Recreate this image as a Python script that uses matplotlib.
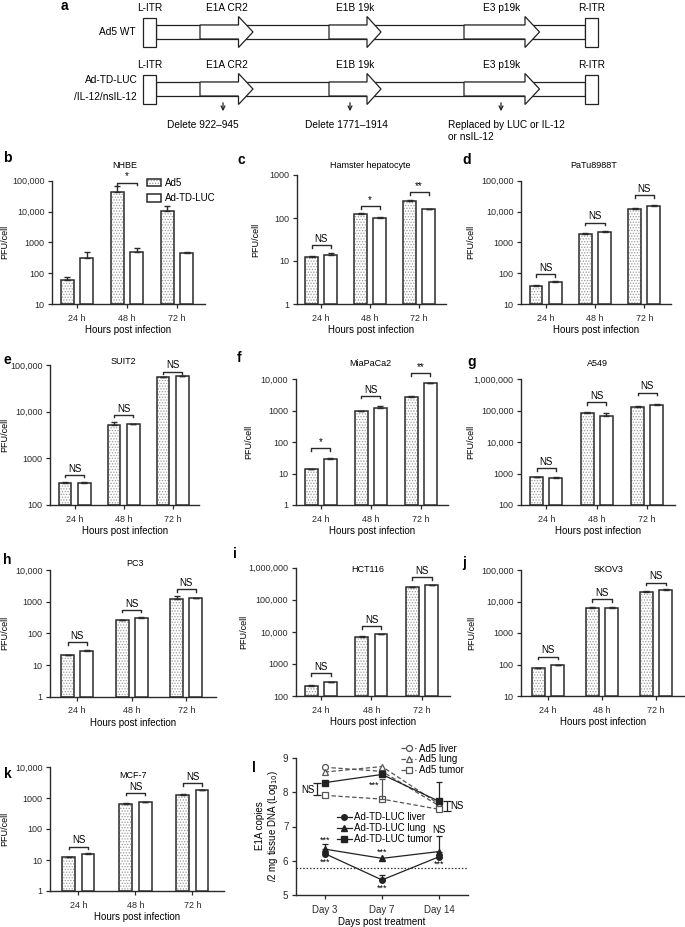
import numpy as np
import matplotlib
matplotlib.use('Agg')
import matplotlib.pyplot as plt
from matplotlib.patches import Rectangle, Polygon
from matplotlib.ticker import FixedLocator, FuncFormatter, NullLocator

plt.rcParams['font.family'] = ['Liberation Sans', 'DejaVu Sans']
plt.rcParams['font.size'] = 6.5
plt.rcParams['hatch.linewidth'] = 0.6
plt.rcParams['axes.linewidth'] = 1.0

# ======================= DATA =======================
timepoints = ['24 h', '48 h', '72 h']
series_names = ['Ad5', 'Ad-TD-LUC']

nhbe_ad5 = [58, 44000, 10400]
nhbe_ad5_top = [74, 67000, 15500]
nhbe_luc = [321, 480, 443]
nhbe_luc_top = [502, 645, 500]
nhbe_sig = ['', '*', '']
nhbe_sig_y = [0, 86000, 0]

hams_ad5 = [12.4, 126, 248]
hams_ad5_top = [13.4, 129, 256]
hams_luc = [14, 100, 158]
hams_luc_top = [15.2, 104, 163]
hams_sig = ['NS', '*', '**']
hams_sig_y = [23.5, 190, 395]

patu_ad5 = [38, 1860, 12300]
patu_ad5_top = [40, 1980, 12800]
patu_luc = [52, 2200, 15400]
patu_luc_top = [55, 2260, 15900]
patu_sig = ['NS', 'NS', 'NS']
patu_sig_y = [94, 4360, 34000]

suit_ad5 = [291, 5200, 54000]
suit_ad5_top = [315, 5900, 55500]
suit_luc = [301, 5400, 57000]
suit_luc_top = [318, 5550, 58500]
suit_sig = ['NS', 'NS', 'NS']
suit_sig_y = [440, 8500, 72000]

mia_ad5 = [13.4, 950, 2600]
mia_ad5_top = [14.2, 990, 2800]
mia_luc = [28.5, 1245, 7300]
mia_luc_top = [31.5, 1400, 7600]
mia_sig = ['*', 'NS', '**']
mia_sig_y = [63, 2950, 15000]

a549_ad5 = [747, 86000, 130000]
a549_ad5_top = [800, 90000, 134000]
a549_luc = [700, 69000, 147000]
a549_luc_top = [760, 82000, 165000]
a549_sig = ['NS', 'NS', 'NS']
a549_sig_y = [1460, 182000, 368000]

pc3_ad5 = [20, 260, 1250]
pc3_ad5_top = [20.5, 272, 1480]
pc3_luc = [28, 300, 1280]
pc3_luc_top = [29, 320, 1330]
pc3_sig = ['NS', 'NS', 'NS']
pc3_sig_y = [52, 550, 2450]

hct_ad5 = [205, 7100, 250000]
hct_ad5_top = [225, 7300, 258000]
hct_luc = [268, 8500, 285000]
hct_luc_top = [278, 8800, 296000]
hct_sig = ['NS', 'NS', 'NS']
hct_sig_y = [510, 14700, 500000]

skov_ad5 = [76, 6000, 20300]
skov_ad5_top = [79, 6600, 20800]
skov_luc = [96, 6300, 23000]
skov_luc_top = [100, 6450, 25000]
skov_sig = ['NS', 'NS', 'NS']
skov_sig_y = [178, 12000, 40000]

mcf_ad5 = [12.2, 630, 1270]
mcf_ad5_top = [12.6, 710, 1300]
mcf_luc = [15.5, 725, 1780]
mcf_luc_top = [16.5, 750, 1850]
mcf_sig = ['NS', 'NS', 'NS']
mcf_sig_y = [27, 1480, 3030]

# panel l (log10 E1A copies)
days = ['Day 3', 'Day 7', 'Day 14']
ad5_liver = [8.73, 8.61, 7.60]
ad5_lung = [8.59, 8.75, 7.65]
ad5_tumor = [7.91, 7.80, 7.50]
td_liver = [6.21, 5.44, 6.12]
td_lung = [6.34, 6.07, 6.27]
td_tumor = [8.28, 8.52, 7.73]
ad5_tumor_up = [np.nan, 8.38, np.nan]
td_tumor_up = [np.nan, np.nan, 8.30]
td_liver_up = [np.nan, 5.58, np.nan]
td_lung_up = [6.48, np.nan, 6.72]
detection_limit = 5.8
l_labels = ['Ad5 liver', 'Ad5 lung', 'Ad5 tumor',
            'Ad-TD-LUC liver', 'Ad-TD-LUC lung', 'Ad-TD-LUC tumor']

# panel a schematic
row_names = ['Ad5 WT', 'Ad-TD-LUC', '/IL-12/nsIL-12']
itr_names = ['L-ITR', 'R-ITR']
gene_names = ['E1A CR2', 'E1B 19k', 'E3 p19k']
mod_texts = ['Delete 922–945', 'Delete 1771–1914', 'Replaced by LUC or IL-12\nor nsIL-12']

# ======================= FIGURE =======================
W, H = 685, 927
fig = plt.figure(figsize=(W / 100, H / 100), dpi=100)


def fxy(x, y):
    return x / W, 1 - y / H


# ---------- panel a : schematic in pixel space ----------
ax0 = fig.add_axes([0, 0, 1, 1])
ax0.set_xlim(0, W)
ax0.set_ylim(H, 0)
ax0.axis('off')

row_y = [32, 89]
itr_x = [143, 585]
itr_w = 13
gene_start = [200, 329, 464]
gene_head = [238.5, 367, 525]
gene_tip = [253, 381, 539.5]
lw_d = 0.9
for r, yc in enumerate(row_y):
    bx0 = itr_x[0] + itr_w
    ax0.add_patch(Rectangle((bx0, yc - 7), itr_x[1] - bx0, 14, fc='white', ec='#222', lw=lw_d))
    for k, xi in enumerate(itr_x):
        ax0.add_patch(Rectangle((xi, yc - 14.5), itr_w, 29, fc='white', ec='#222', lw=lw_d, zorder=3))
        ax0.text(xi + itr_w / 2, yc - 24.5, itr_names[k], ha='center', va='center', fontsize=7.3)
    for g in range(3):
        xs, xh, xt = gene_start[g], gene_head[g], gene_tip[g]
        poly = [(xs, yc - 7), (xh, yc - 7), (xh, yc - 15.5), (xt, yc), (xh, yc + 15.5),
                (xh, yc + 7), (xs, yc + 7)]
        ax0.add_patch(Polygon(poly, closed=True, fc='white', ec='#222', lw=lw_d, zorder=2))
        ax0.text((xs + xt) / 2, yc - 24.5, gene_names[g], ha='center', va='center', fontsize=7.3)

ax0.text(136, row_y[0], row_names[0], ha='right', va='center', fontsize=7.3)
ax0.text(138, 80, row_names[1], ha='right', va='center', fontsize=7.3)
ax0.text(137, 96.5, row_names[2], ha='right', va='center', fontsize=7.3)

mod_x = [223, 350, 501]
for g in range(3):
    ax0.annotate('', xy=(mod_x[g], 114), xytext=(mod_x[g], 100),
                 arrowprops=dict(arrowstyle='->', lw=0.9, color='#222', mutation_scale=7))
ax0.text(203, 125, mod_texts[0], ha='center', va='center', fontsize=7.3)
ax0.text(346, 125, mod_texts[1], ha='center', va='center', fontsize=7.3)
ax0.text(448, 119.5, mod_texts[2], ha='left', va='top', fontsize=7.3, linespacing=1.35)
ax0.text(64, 6, 'a', ha='center', va='center', fontsize=10, fontweight='bold')

# ---------- bar panels ----------
panels = [
    dict(letter='b', title='NHBE', data=(nhbe_ad5, nhbe_ad5_top, nhbe_luc, nhbe_luc_top, nhbe_sig, nhbe_sig_y),
         ylim=(10, 1e5), geo=(52, 180.7, 304, 50), tpos=(125, 166), lpos=(3, 158), ylx=5),
    dict(letter='c', title='Hamster hepatocyte', data=(hams_ad5, hams_ad5_top, hams_luc, hams_luc_top, hams_sig, hams_sig_y),
         ylim=(1, 1e3), geo=(296.7, 175, 304, 49), tpos=(370, 166), lpos=(238, 160), ylx=256),
    dict(letter='d', title='PaTu8988T', data=(patu_ad5, patu_ad5_top, patu_luc, patu_luc_top, patu_sig, patu_sig_y),
         ylim=(10, 1e5), geo=(521, 180.7, 304, 49.3), tpos=(594, 166), lpos=(462, 160), ylx=471),
    dict(letter='e', title='SUIT2', data=(suit_ad5, suit_ad5_top, suit_luc, suit_luc_top, suit_sig, suit_sig_y),
         ylim=(100, 1e5), geo=(50, 365, 505, 49), tpos=(123, 362), lpos=(3, 360), ylx=5),
    dict(letter='f', title='MiaPaCa2', data=(mia_ad5, mia_ad5_top, mia_luc, mia_luc_top, mia_sig, mia_sig_y),
         ylim=(1, 1e4), geo=(295.7, 379, 505, 50), tpos=(370, 363), lpos=(237, 358), ylx=249),
    dict(letter='g', title='A549', data=(a549_ad5, a549_ad5_top, a549_luc, a549_luc_top, a549_sig, a549_sig_y),
         ylim=(100, 1e6), geo=(521, 379, 505, 50.5), tpos=(597, 363), lpos=(467, 362), ylx=471),
    dict(letter='h', title='PC3', data=(pc3_ad5, pc3_ad5_top, pc3_luc, pc3_luc_top, pc3_sig, pc3_sig_y),
         ylim=(1, 1e4), geo=(50, 570, 696.7, 54.5), tpos=(135, 563), lpos=(3, 560), ylx=5),
    dict(letter='i', title='HCT116', data=(hct_ad5, hct_ad5_top, hct_luc, hct_luc_top, hct_sig, hct_sig_y),
         ylim=(100, 1e6), geo=(295.7, 567.7, 696, 50.5), tpos=(368, 570), lpos=(233, 554), ylx=244),
    dict(letter='j', title='SKOV3', data=(skov_ad5, skov_ad5_top, skov_luc, skov_luc_top, skov_sig, skov_sig_y),
         ylim=(10, 1e5), geo=(521, 570, 696, 54), tpos=(608, 570), lpos=(462, 563), ylx=472),
    dict(letter='k', title='MCF-7', data=(mcf_ad5, mcf_ad5_top, mcf_luc, mcf_luc_top, mcf_sig, mcf_sig_y),
         ylim=(1, 1e4), geo=(50, 767, 891, 57), tpos=(133, 775), lpos=(4, 774), ylx=5),
]


def fmt_tick(v, pos):
    v = int(round(v))
    return f'{v:,}' if v >= 10000 else f'{v}'


edge = '#2a2a2a'
for p in panels:
    left, top, bottom, sp = p['geo']
    width = 3.05 * sp
    hpx = bottom - top
    ax = fig.add_axes([left / W, 1 - bottom / H, width / W, hpx / H])
    ad5, ad5_top, luc, luc_top, sig, sig_y = p['data']
    lo, hi = p['ylim']
    ax.set_yscale('log')
    ax.set_ylim(lo, hi)
    ax.set_xlim(-0.5, 2.55)
    x = np.arange(len(timepoints))
    off = 9.6 / sp
    bw = 12.8 / sp
    hb = ax.bar(x - off, np.array(ad5) - lo, bottom=lo, width=bw, color='white', edgecolor='#9b9b9b',
                hatch='......', linewidth=0, zorder=2)
    ob = ax.bar(x - off, np.array(ad5) - lo, bottom=lo, width=bw, fill=False, edgecolor=edge,
                linewidth=1.1, zorder=3)
    lb = ax.bar(x + off, np.array(luc) - lo, bottom=lo, width=bw, color='white', edgecolor=edge,
                linewidth=1.1, zorder=3)
    for xs, v, t in ((x - off, ad5, ad5_top), (x + off, luc, luc_top)):
        v = np.array(v, float)
        t = np.array(t, float)
        ax.errorbar(xs, v, yerr=[np.zeros_like(v), t - v], fmt='none', ecolor=edge,
                    elinewidth=1.0, capsize=2.3, capthick=1.0, zorder=4)
    ndec = np.log10(hi) - np.log10(lo)
    dec_px = hpx / ndec
    fac = 10 ** (-2.5 / dec_px)
    up = 10 ** (1.2 / dec_px)
    for i, (lab, yb) in enumerate(zip(sig, sig_y)):
        if not lab:
            continue
        ax.plot([i - off, i - off, i + off, i + off], [yb * fac, yb, yb, yb * fac], color=edge,
                lw=1.0, clip_on=False, zorder=5)
        ax.text(i, yb * up, lab, ha='center', va='bottom', fontsize=7, clip_on=False)
    ticks = 10.0 ** np.arange(np.log10(lo), np.log10(hi) + 0.5)
    ax.yaxis.set_major_locator(FixedLocator(ticks))
    ax.yaxis.set_minor_locator(NullLocator())
    ax.yaxis.set_major_formatter(FuncFormatter(fmt_tick))
    ax.set_xticks(x)
    ax.set_xticklabels(timepoints)
    for s in ('top', 'right'):
        ax.spines[s].set_visible(False)
    for s in ('left', 'bottom'):
        ax.spines[s].set_color(edge)
        ax.spines[s].set_linewidth(1.0)
    ax.tick_params(direction='out', length=3, width=0.9, colors=edge, labelsize=6.5, pad=2.5)
    ax.tick_params(axis='x', pad=4)
    ax.xaxis.set_label_coords(0.5, -26 / hpx)
    ax.set_xlabel('Hours post infection', fontsize=7, va='center')
    fig.text(*fxy(p['ylx'], (top + bottom) / 2), 'PFU/cell', rotation=90, ha='center', va='center', fontsize=6.5)
    fig.text(*fxy(*p['tpos']), p['title'], ha='center', va='center', fontsize=6.5)
    fig.text(*fxy(*p['lpos']), p['letter'], ha='left', va='center', fontsize=10, fontweight='bold')
    if p['letter'] == 'b':
        ax.legend([(hb, ob), lb], series_names, loc='upper left', bbox_to_anchor=fxy(146.5, 178),
                  bbox_transform=fig.transFigure, frameon=False, fontsize=7, handlelength=1.5,
                  handleheight=0.75, handletextpad=0.45, labelspacing=0.55, borderpad=0, borderaxespad=0)

# ---------- panel l ----------
axl = fig.add_axes([296 / W, 1 - 895 / H, (468 - 296) / W, (895 - 758) / H])
xd = np.arange(len(days))
dash_c = '#555555'
l1, = axl.plot(xd, ad5_liver, ls=(0, (3.5, 2)), color=dash_c, lw=0.9, marker='o', ms=4.3, mfc='white', mec=dash_c, mew=0.9)
l2, = axl.plot(xd, ad5_lung, ls=(0, (3.5, 2)), color=dash_c, lw=0.9, marker='^', ms=4.5, mfc='white', mec=dash_c, mew=0.9)
l3, = axl.plot(xd, ad5_tumor, ls=(0, (3.5, 2)), color=dash_c, lw=0.9, marker='s', ms=4.0, mfc='white', mec=dash_c, mew=0.9)
l4, = axl.plot(xd, td_liver, ls='-', color='#222', lw=0.9, marker='o', ms=4.0, mfc='#222', mec='#222')
l5, = axl.plot(xd, td_lung, ls='-', color='#222', lw=0.9, marker='^', ms=4.3, mfc='#222', mec='#222')
l6, = axl.plot(xd, td_tumor, ls='-', color='#222', lw=0.9, marker='s', ms=4.0, mfc='#222', mec='#222')

for vals, ups, col in ((ad5_tumor, ad5_tumor_up, dash_c), (td_tumor, td_tumor_up, '#222'),
                       (td_liver, td_liver_up, '#222'), (td_lung, td_lung_up, '#222')):
    v = np.array(vals, float)
    u = np.array(ups, float)
    m = ~np.isnan(u)
    axl.errorbar(xd[m], v[m], yerr=[np.zeros(m.sum()), (u - v)[m]], fmt='none', ecolor=col,
                 elinewidth=0.9, capsize=2.3, capthick=0.9)

axl.axhline(detection_limit, ls=(0, (1.2, 1.5)), color='#333', lw=0.9)

# NS brackets (I-shaped) at day 3 and day 14
axl.errorbar([-0.13], [(td_tumor[0] + ad5_tumor[0]) / 2],
             yerr=[[(td_tumor[0] - ad5_tumor[0]) / 2]], fmt='none', ecolor='#222', elinewidth=0.9,
             capsize=3, capthick=0.9)
axl.text(-0.3, 8.08, 'NS', ha='center', va='center', fontsize=7)
axl.errorbar([2.13], [7.6], yerr=[[0.15]], fmt='none', ecolor='#222', elinewidth=0.9, capsize=3, capthick=0.9)
axl.text(2.3, 7.6, 'NS', ha='center', va='center', fontsize=7)
axl.text(0.86, 8.2, '***', ha='center', va='center', fontsize=6.5)
sig_txt = ['***', '***', '***', '***', 'NS', '***']
sig_xy = [(0, 6.6), (0, 5.97), (1, 6.26), (1, 5.21), (2, 6.91), (2, 5.9)]
for t, (sx, sy) in zip(sig_txt, sig_xy):
    axl.text(sx, sy, t, ha='center', va='center', fontsize=7 if t == 'NS' else 6.5)

axl.set_xlim(-0.5, 2.5)
axl.set_ylim(5, 9)
axl.set_xticks(xd)
axl.set_xticklabels(days)
axl.set_yticks([5, 6, 7, 8, 9])
for s in ('top', 'right'):
    axl.spines[s].set_visible(False)
for s in ('left', 'bottom'):
    axl.spines[s].set_color(edge)
axl.tick_params(direction='out', length=3, width=0.9, colors=edge, labelsize=7, pad=2.5)
axl.tick_params(axis='x', pad=4)
axl.xaxis.set_label_coords(0.5, -27 / 137)
axl.set_xlabel('Days post treatment', fontsize=7, va='center')
fig.text(*fxy(267.5, 826), 'E1A copies\n/2 mg tissue DNA (Log$_{10}$)', rotation=90,
         ha='center', va='center', fontsize=7, linespacing=1.15)
fig.text(*fxy(252, 768), 'l', ha='left', va='center', fontsize=10, fontweight='bold')

leg1 = axl.legend([l1, l2, l3], l_labels[:3], loc='upper left', bbox_to_anchor=fxy(401, 743.5),
                  bbox_transform=fig.transFigure, frameon=False, fontsize=7, handlelength=1.55,
                  handletextpad=0.3, labelspacing=0.08, borderpad=0, borderaxespad=0)
axl.add_artist(leg1)
axl.legend([l4, l5, l6], l_labels[3:], loc='upper left', bbox_to_anchor=fxy(336.5, 812),
           bbox_transform=fig.transFigure, frameon=False, fontsize=7, handlelength=1.55,
           handletextpad=0.3, labelspacing=0.1, borderpad=0, borderaxespad=0)

fig.savefig('out.png', dpi=100)
